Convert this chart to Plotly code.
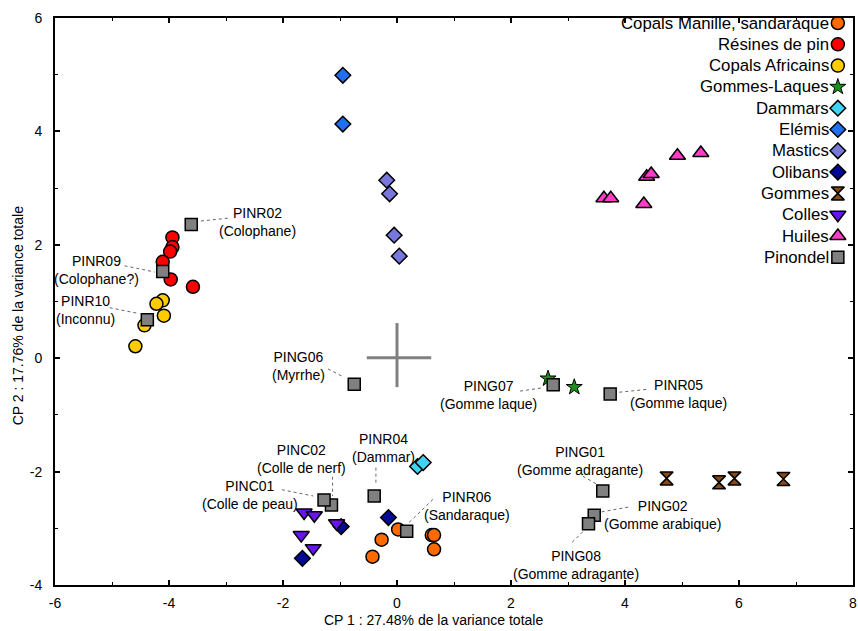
import plotly.graph_objects as go

# ---------------- data (CP1, CP2 scores) ----------------

manille_x = [0.02, -0.27, -0.43, 0.61, 0.65, 0.65]
manille_y = [-3.02, -3.20, -3.50, -3.12, -3.12, -3.37]

pin_x = [-3.94, -3.94, -3.98, -4.11, -3.97, -3.58]
pin_y = [2.13, 1.96, 1.88, 1.70, 1.39, 1.26]

africains_x = [-4.11, -4.22, -4.09, -4.43, -4.59]
africains_y = [1.02, 0.96, 0.75, 0.58, 0.21]

laques_x = [2.65, 3.11]
laques_y = [-0.36, -0.51]

dammars_x = [0.36, 0.46]
dammars_y = [-1.91, -1.84]

elemis_x = [-0.95, -0.95]
elemis_y = [4.99, 4.13]

mastics_x = [-0.18, -0.13, -0.05, 0.04]
mastics_y = [3.14, 2.90, 2.17, 1.80]

olibans_x = [-0.15, -0.98, -1.66]
olibans_y = [-2.81, -2.97, -3.53]

gommes_x = [4.73, 5.65, 5.92, 6.78]
gommes_y = [-2.12, -2.19, -2.12, -2.13]

colles_x = [-1.63, -1.45, -1.06, -1.68, -1.47]
colles_y = [-2.72, -2.77, -2.91, -3.12, -3.35]

huiles_x = [4.92, 5.33, 4.38, 4.46, 3.63, 3.75, 4.33]
huiles_y = [3.57, 3.62, 3.20, 3.25, 2.82, 2.82, 2.72]

# Pinondel samples
pin_names = ["PINR02", "PINR09", "PINR10", "PING06", "PING07", "PINR05", "PINC02",
             "PINC01", "PINR04", "PINR06", "PING01", "PING02", "PING08"]
pin_ids = ["(Colophane)", "(Colophane?)", "(Inconnu)", "(Myrrhe)", "(Gomme laque)",
           "(Gomme laque)", "(Colle de nerf)", "(Colle de peau)", "(Dammar)",
           "(Sandaraque)", "(Gomme adragante)", "(Gomme arabique)", "(Gomme adragante)"]
pinondel_x = [-3.61, -4.11, -4.38, -0.75, 2.74, 3.74, -1.15, -1.28, -0.40, 0.17, 3.61, 3.46, 3.36]
pinondel_y = [2.36, 1.53, 0.68, -0.46, -0.47, -0.63, -2.59, -2.50, -2.43, -3.05, -2.34, -2.77, -2.92]

# label centres and leader lines (data units)
label_x = [-2.44, -5.27, -5.46, -1.73, 1.60, 4.94, -1.67, -2.58, -0.24, 1.22, 3.21, 4.67, 3.14]
label_y = [2.40, 1.55, 0.85, -0.14, -0.65, -0.64, -1.77, -2.41, -1.59, -2.61, -1.81, -2.76, -3.64]
lead_x0 = [-3.44, -4.78, -5.04, -1.21, 2.16, 3.90, -1.13, -2.02, -0.37, 0.63, 3.26, 3.59, 3.26]
lead_y0 = [2.42, 1.63, 0.89, -0.19, -0.58, -0.60, -2.09, -2.32, -1.93, -2.49, -2.08, -2.71, -3.06]
lead_x1 = [-2.96, -4.25, -4.54, -0.94, 2.57, 4.38, -1.13, -1.47, -0.37, 0.20, 3.50, 4.09, 3.04]
lead_y1 = [2.47, 1.52, 0.79, -0.33, -0.52, -0.55, -2.43, -2.43, -2.22, -2.91, -2.22, -2.62, -3.28]

x_ticks = [-6, -4, -2, 0, 2, 4, 6, 8]
y_ticks = [-4, -2, 0, 2, 4, 6]

# name, x, y, symbol, fill, size, outline width
groups = [
    ("Copals Manille, sandaraque", manille_x, manille_y, "circle", "#FF6A00", 13, 1.5),
    ("Résines de pin", pin_x, pin_y, "circle", "#FF0000", 13, 1.5),
    ("Copals Africains", africains_x, africains_y, "circle", "#FFCC00", 13, 1.5),
    ("Gommes-Laques", laques_x, laques_y, "star", "#1A8F1A", 12, 1),
    ("Dammars", dammars_x, dammars_y, "diamond", "#40D4F4", 12, 1.5),
    ("Elémis", elemis_x, elemis_y, "diamond", "#1F6FF0", 12, 1.5),
    ("Mastics", mastics_x, mastics_y, "diamond", "#7878DC", 12, 1.5),
    ("Olibans", olibans_x, olibans_y, "diamond", "#000A96", 12, 1.5),
    ("Gommes", gommes_x, gommes_y, "hourglass", "#8B4A14", 13, 1.5),
    ("Colles", colles_x, colles_y, "triangle-down", "#6A14F0", 14, 1.5),
    ("Huiles", huiles_x, huiles_y, "triangle-up", "#FF3CC8", 14, 1.5),
    ("Pinondel", pinondel_x, pinondel_y, "square", "#808080", 12, 1.5),
]

FONT = "Liberation Sans, Arial, sans-serif"

fig = go.Figure()

for name, xs, ys, sym, col, size, lw in groups:
    fig.add_trace(go.Scatter(
        x=xs, y=ys, mode="markers", name=name, showlegend=False,
        marker=dict(symbol=sym, color=col, size=size,
                    line=dict(color="black", width=lw)),
    ))

# custom legend: text on the left, marker on the right (overlay axes 0..1)
n = len(groups)
row_y = [(585 - (23 + 21.3 * i)) / 567 for i in range(n)]
for i, (name, xs, ys, sym, col, size, lw) in enumerate(groups):
    fig.add_trace(go.Scatter(
        x=[0.981], y=[row_y[i]], xaxis="x2", yaxis="y2", mode="markers",
        showlegend=False, hoverinfo="skip",
        marker=dict(symbol=sym, color=col, size=size,
                    line=dict(color="black", width=lw)),
    ))
    fig.add_annotation(x=0.972, y=row_y[i], xref="paper", yref="paper",
                       text=name, showarrow=False, xanchor="right", yanchor="middle",
                       font=dict(size=16.8, color="black", family=FONT))

# sample labels and leader lines
for i in range(len(pin_names)):
    fig.add_annotation(x=label_x[i], y=label_y[i], text=pin_names[i] + "<br>" + pin_ids[i],
                       showarrow=False, font=dict(size=14, color="black", family=FONT),
                       align="center")
    fig.add_shape(type="line", x0=lead_x0[i], y0=lead_y0[i], x1=lead_x1[i], y1=lead_y1[i],
                  line=dict(color="#666666", width=1, dash="dot"), layer="below")

# origin cross
fig.add_shape(type="line", x0=-0.53, y0=0.01, x1=0.60, y1=0.01,
              line=dict(color="#808080", width=3), layer="below")
fig.add_shape(type="line", x0=0.0, y0=0.62, x1=0.0, y1=-0.51,
              line=dict(color="#808080", width=3), layer="below")

axis_common = dict(
    showline=True, linecolor="black", linewidth=2, mirror="ticks",
    ticks="inside", ticklen=5, tickwidth=1.5, tickcolor="black",
    showgrid=False, zeroline=False, automargin=False, ticklabeloverflow="allow",
    tickfont=dict(size=14, color="black", family=FONT),
    minor=dict(ticks="inside", ticklen=3, tickwidth=1, tickcolor="black", dtick=1, showgrid=False),
)

fig.update_layout(
    width=858, height=631,
    margin=dict(l=55, r=5, t=18, b=46),
    paper_bgcolor="white", plot_bgcolor="white",
    showlegend=False,
    font=dict(family=FONT, color="black"),
    xaxis=dict(range=[-6, 8], tickvals=x_ticks, ticktext=[str(v) for v in x_ticks],
               ticklabelstandoff=4, **axis_common),
    yaxis=dict(range=[-4, 6], tickvals=y_ticks, ticktext=[str(v) for v in y_ticks],
               ticklabelstandoff=8, **axis_common),
    xaxis2=dict(overlaying="x", range=[0, 1], visible=False, fixedrange=True),
    yaxis2=dict(overlaying="y", range=[0, 1], visible=False, fixedrange=True),
)

# axis titles
fig.add_annotation(x=(433 - 55) / 798, y=-0.062, xref="paper", yref="paper",
                   text="CP 1 : 27.48% de la variance totale", showarrow=False,
                   xanchor="center", yanchor="middle",
                   font=dict(size=14, color="black", family=FONT))
fig.add_annotation(x=-0.046, y=(585 - 316) / 567, xref="paper", yref="paper",
                   text="CP 2 : 17.76% de la variance totale", showarrow=False,
                   textangle=-90, xanchor="center", yanchor="middle",
                   font=dict(size=14, color="black", family=FONT))

# the page's default body margin would shift the figure by 8 px
fig.write_html("out.html", config={"displayModeBar": False},
               post_script="document.body.style.margin='0';")
